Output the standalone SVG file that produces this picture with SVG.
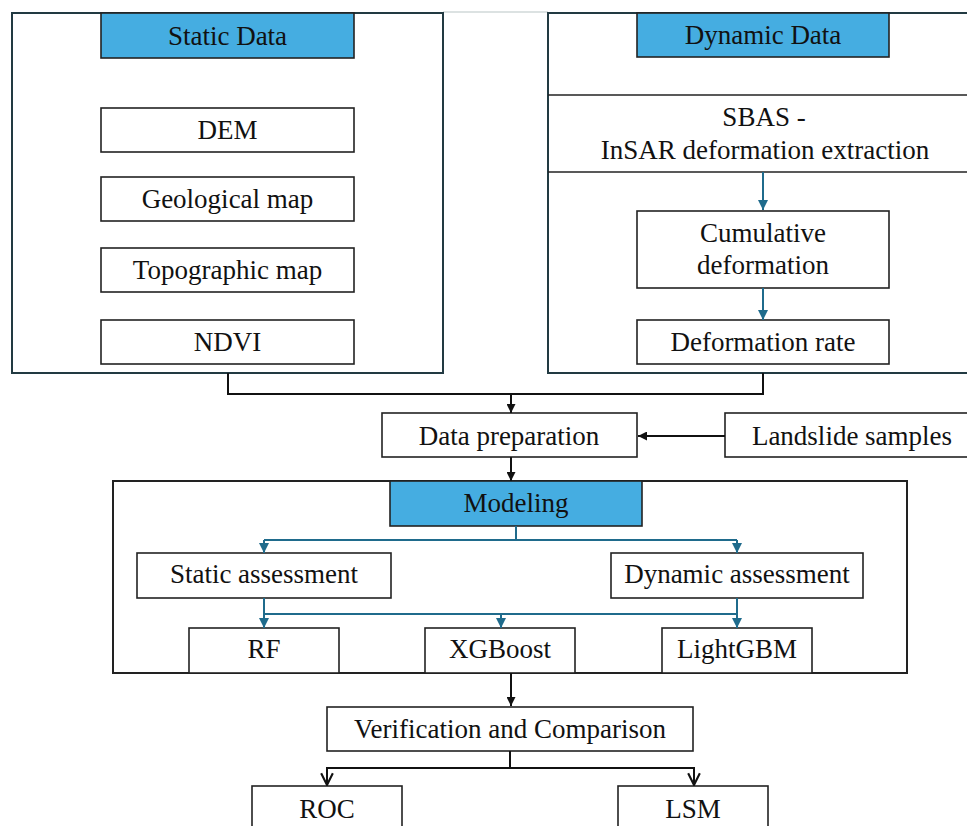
<svg xmlns="http://www.w3.org/2000/svg" width="967" height="826" viewBox="0 0 967 826">
<defs>
<style>
text{font-family:"Liberation Serif","Times New Roman","DejaVu Serif",serif;font-size:27px;fill:#111;text-anchor:middle}
.box{fill:#fff;stroke:#222;stroke-width:1.6}
.outer{fill:#fff;stroke:#223a42;stroke-width:2}
.head{fill:#45ADE1;stroke:#222;stroke-width:1.6}
.blk{fill:none;stroke:#111;stroke-width:2}
.teal{fill:none;stroke:#1F6B8C;stroke-width:2}
</style>
<marker id="at" viewBox="0 0 10 10" refX="10" refY="5" markerWidth="10" markerHeight="10" markerUnits="userSpaceOnUse" orient="auto">
<path d="M0,0 L10,5 L0,10 z" fill="#1F6B8C"/>
</marker>
<marker id="ab" viewBox="0 0 10 10" refX="10" refY="5" markerWidth="10" markerHeight="9" markerUnits="userSpaceOnUse" orient="auto">
<path d="M0,0 L10,5 L0,10 z" fill="#111"/>
</marker>
<marker id="av" viewBox="0 0 12 12" refX="11" refY="6" markerWidth="14" markerHeight="14" markerUnits="userSpaceOnUse" orient="auto">
<path d="M1,1 L11,6 L1,11" fill="none" stroke="#111" stroke-width="1.8"/>
</marker>
</defs>
<rect width="967" height="826" fill="#fff"/>
<line x1="443" y1="12" x2="548" y2="12" stroke="#dce2e2" stroke-width="2"/>

<g id="static-data">
<rect class="outer" x="12" y="13" width="431" height="360"/>
<rect class="head" x="101" y="13" width="253" height="45"/>
<text x="227.5" y="45">Static Data</text>
</g>
<g id="dem"><rect class="box" x="101" y="108" width="253" height="44"/><text x="227.5" y="139">DEM</text></g>
<g id="geological-map"><rect class="box" x="101" y="177" width="253" height="44"/><text x="227.5" y="208">Geological map</text></g>
<g id="topographic-map"><rect class="box" x="101" y="248" width="253" height="44"/><text x="227.5" y="279">Topographic map</text></g>
<g id="ndvi"><rect class="box" x="101" y="320" width="253" height="44"/><text x="227.5" y="351">NDVI</text></g>

<g id="dynamic-data">
<rect class="outer" x="548" y="13" width="430" height="360"/>
<rect class="head" x="637" y="13" width="252" height="44"/>
<text x="763" y="44">Dynamic Data</text>
</g>
<g id="sbas-insar">
<line x1="548" y1="95" x2="967" y2="95" stroke="#222" stroke-width="1.6"/>
<line x1="548" y1="172" x2="967" y2="172" stroke="#222" stroke-width="1.6"/>
<text x="764" y="126">SBAS -</text>
<text x="765" y="159">InSAR deformation extraction</text>
</g>
<g id="cumulative-deformation"><rect class="box" x="637" y="211" width="252" height="77"/><text x="763" y="242">Cumulative</text><text x="763" y="274">deformation</text></g>
<g id="deformation-rate"><rect class="box" x="637" y="320" width="252" height="44"/><text x="763" y="351">Deformation rate</text></g>

<g id="data-preparation"><rect class="box" x="382" y="413" width="255" height="44"/><text x="509" y="445">Data preparation</text></g>
<g id="landslide-samples"><rect class="box" x="725" y="413" width="260" height="44"/><text x="852" y="445">Landslide samples</text></g>

<g id="modeling">
<rect class="box" x="113" y="481" width="794" height="192" style="stroke-width:2"/>
<rect class="head" x="390" y="481" width="252" height="45"/>
<text x="516" y="512">Modeling</text>
</g>
<g id="static-assessment"><rect class="box" x="137" y="553" width="254" height="45"/><text x="264" y="583">Static assessment</text></g>
<g id="dynamic-assessment"><rect class="box" x="611" y="553" width="252" height="45"/><text x="737" y="583">Dynamic assessment</text></g>
<g id="rf"><rect class="box" x="189" y="628" width="150" height="45"/><text x="264" y="658">RF</text></g>
<g id="xgboost"><rect class="box" x="425" y="628" width="150" height="45"/><text x="500" y="658">XGBoost</text></g>
<g id="lightgbm"><rect class="box" x="662" y="628" width="150" height="45"/><text x="737" y="658">LightGBM</text></g>

<g id="verification"><rect class="box" x="327" y="707" width="366" height="44"/><text x="510" y="738">Verification and Comparison</text></g>
<g id="roc"><rect class="box" x="252" y="786" width="150" height="60"/><text x="327" y="818">ROC</text></g>
<g id="lsm"><rect class="box" x="618" y="786" width="150" height="60"/><text x="693" y="818">LSM</text></g>

<g id="connectors">
<line class="teal" x1="763" y1="172" x2="763" y2="210" marker-end="url(#at)"/>
<line class="teal" x1="763" y1="288" x2="763" y2="320" marker-end="url(#at)"/>
<polyline class="blk" points="228,373 228,394 763,394 763,373"/>
<line class="blk" x1="511" y1="394" x2="511" y2="413" marker-end="url(#ab)"/>
<line class="blk" x1="725" y1="436" x2="638" y2="436" marker-end="url(#ab)"/>
<line class="blk" x1="511" y1="457" x2="511" y2="481" marker-end="url(#ab)"/>
<line class="teal" x1="516" y1="526" x2="516" y2="540"/>
<line class="teal" x1="264" y1="540" x2="737" y2="540"/>
<line class="teal" x1="264" y1="540" x2="264" y2="553" marker-end="url(#at)"/>
<line class="teal" x1="737" y1="540" x2="737" y2="553" marker-end="url(#at)"/>
<line class="teal" x1="264" y1="598" x2="264" y2="628" marker-end="url(#at)"/>
<line class="teal" x1="737" y1="598" x2="737" y2="628" marker-end="url(#at)"/>
<line class="teal" x1="264" y1="614" x2="737" y2="614"/>
<line class="teal" x1="501" y1="614" x2="501" y2="628" marker-end="url(#at)"/>
<line class="blk" x1="511" y1="673" x2="511" y2="706" marker-end="url(#ab)"/>
<line class="blk" x1="510" y1="751" x2="510" y2="768"/>
<line class="blk" x1="327" y1="768" x2="694" y2="768"/>
<line class="blk" x1="327" y1="767" x2="327" y2="785" marker-end="url(#av)"/>
<line class="blk" x1="694" y1="767" x2="694" y2="785" marker-end="url(#av)"/>
</g>
</svg>
